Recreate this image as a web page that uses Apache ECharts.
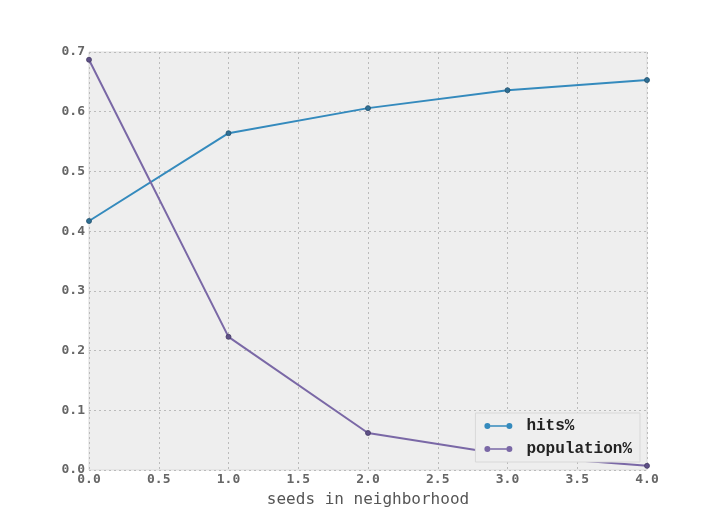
<!DOCTYPE html>
<html><head><meta charset="utf-8">
<script src="https://cdn.jsdelivr.net/npm/echarts@6/dist/echarts.min.js"></script>
<style>html,body{margin:0;padding:0;background:#fff}#c{width:720px;height:523px}</style>
</head><body><div id="c"></div>
<script>
const xValues = [0, 1, 2, 3, 4];
const hits = [0.417, 0.564, 0.606, 0.636, 0.653];
const population = [0.687, 0.223, 0.062, 0.025, 0.007];
const xTicks = [0, 0.5, 1, 1.5, 2, 2.5, 3, 3.5, 4];
const yTicks = [0, 0.1, 0.2, 0.3, 0.4, 0.5, 0.6, 0.7];

const chart = echarts.init(document.getElementById('c'));
const mono = '"DejaVu Sans Mono", monospace';
const legendIcon = 'path://M0,3A3,3 0 1,1 6,3A3,3 0 1,1 0,3Z M22,3A3,3 0 1,1 28,3A3,3 0 1,1 22,3Z M6,2.3L22,2.3L22,3.7L6,3.7Z';
chart.setOption({
  animation: false,
  grid: {left: 89, right: 73, top: 52, bottom: 53, backgroundColor: '#EEEEEE', show: true, borderColor: '#DDDDDD', borderWidth: 1},
  xAxis: {
    type: 'value', min: 0, max: 4, interval: 0.5,
    name: 'seeds in neighborhood', nameLocation: 'middle', nameGap: 22,
    nameTextStyle: {fontFamily: mono, fontSize: 16, color: '#555'},
    axisLine: {show: false}, axisTick: {show: false},
    axisLabel: {fontFamily: mono, fontSize: 13, fontWeight: 'bold', color: '#666', margin: 3, formatter: v => v.toFixed(1)},
    splitLine: {show: true, lineStyle: {type: [2, 3], color: '#BBBBBB', width: 1}}
  },
  yAxis: {
    type: 'value', min: 0, max: 0.7, interval: 0.1,
    axisLine: {show: false}, axisTick: {show: false},
    axisLabel: {fontFamily: mono, fontSize: 13, fontWeight: 'bold', color: '#666', margin: 4, formatter: v => v.toFixed(1)},
    splitLine: {show: true, lineStyle: {type: [2, 3], color: '#BBBBBB', width: 1}}
  },
  legend: {
    orient: 'vertical', right: 80, bottom: 61,
    backgroundColor: '#EEEEEE', borderColor: '#D8D8D8', borderWidth: 1, padding: [5, 8, 5, 9],
    itemGap: 7, itemWidth: 28, itemHeight: 6,
    textStyle: {fontFamily: '"Liberation Mono", monospace', fontWeight: 'bold', fontSize: 16, color: '#222', padding: [0, 0, 0, 9]},
    data: [
      {name: 'hits%', icon: legendIcon, itemStyle: {color: '#348ABD', borderWidth: 0}},
      {name: 'population%', icon: legendIcon, itemStyle: {color: '#7A68A6', borderWidth: 0}}
    ]
  },
  series: [
    {name: 'hits%', type: 'line', data: xValues.map((x, i) => [x, hits[i]]),
     symbol: 'circle', symbolSize: 5, color: '#348ABD',
     lineStyle: {width: 2, color: '#348ABD'},
     itemStyle: {color: '#2F6F94', borderColor: '#22526E', borderWidth: 0.8}},
    {name: 'population%', type: 'line', data: xValues.map((x, i) => [x, population[i]]),
     symbol: 'circle', symbolSize: 5, color: '#7A68A6',
     lineStyle: {width: 2, color: '#7A68A6'},
     itemStyle: {color: '#5E5087', borderColor: '#463C66', borderWidth: 0.8}}
  ]
});
</script></body></html>
